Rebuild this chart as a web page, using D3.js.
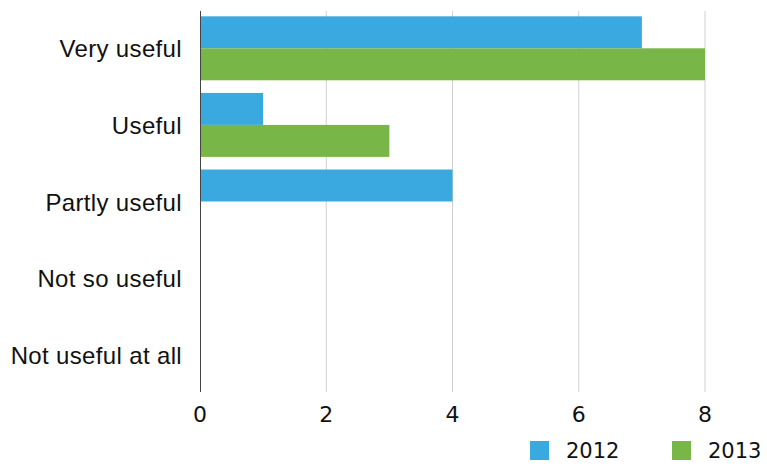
<!DOCTYPE html>
<html><head><meta charset="utf-8">
<script src="https://cdn.jsdelivr.net/npm/d3@7"></script>
<style>body{margin:0;background:#fff}svg{display:block}</style>
</head><body>
<svg id="c" width="767" height="466"></svg>
<script>
const categories = ["Very useful","Useful","Partly useful","Not so useful","Not useful at all"];
const seriesNames = ["2012","2013"];
const values2012 = [7,1,4,0,0];
const values2013 = [8,3,0,0,0];
const xTicks = [0,2,4,6,8];
const colors = ["#3aa9df","#77b647"];

const svg = d3.select("#c");
const plotLeft = 200, plotRight8 = 705, plotTop = 10, plotBottom = 393;
const x = d3.scaleLinear().domain([0,8]).range([plotLeft,plotRight8]);
const y = d3.scaleBand().domain(categories).range([plotTop,plotBottom]).paddingInner(0.165).paddingOuter(0.0825);
const ySub = d3.scaleBand().domain(seriesNames).range([0,y.bandwidth()]);

// gridlines
svg.append("g").selectAll("line").data(xTicks.filter(d=>d>0)).join("line")
  .attr("x1",d=>x(d)).attr("x2",d=>x(d)).attr("y1",11).attr("y2",392)
  .attr("stroke","#d0d0d0").attr("stroke-width",1);

const series = [values2012, values2013];
series.forEach((vals,si)=>{
  svg.append("g").selectAll("rect").data(categories.map((c,i)=>({c,v:vals[i]}))).join("rect")
    .attr("x",x(0)).attr("y",d=>y(d.c)+ySub(seriesNames[si]))
    .attr("width",d=>x(d.v)-x(0)).attr("height",ySub.bandwidth())
    .attr("fill",colors[si]);
});

// axis line at 0
svg.append("line").attr("x1",x(0)+0.5).attr("x2",x(0)+0.5).attr("y1",11).attr("y2",392)
  .attr("stroke","#444").attr("stroke-width",1);

// y labels
svg.append("g").selectAll("text").data(categories).join("text")
  .attr("x",182).attr("y",d=>y(d)+y.bandwidth()/2+9)
  .attr("text-anchor","end")
  .attr("font-family","Liberation Sans, Arial, sans-serif").attr("font-size",24)
  .attr("letter-spacing","0.35px").attr("fill","#111")
  .text(d=>d);

// x tick labels
svg.append("g").selectAll("text").data(xTicks).join("text")
  .attr("x",d=>x(d)).attr("y",422)
  .attr("text-anchor","middle")
  .attr("font-family","DejaVu Sans, sans-serif").attr("font-size",22).attr("fill","#111")
  .text(d=>d);

// legend
const legX = [530,672];
seriesNames.forEach((s,i)=>{
  svg.append("rect").attr("x",legX[i]).attr("y",441).attr("width",19).attr("height",19).attr("fill",colors[i]);
  svg.append("text").attr("x",legX[i]+36).attr("y",458)
    .attr("font-family","DejaVu Sans, sans-serif").attr("font-size",21).attr("fill","#111").text(s);
});
</script>
</body></html>
